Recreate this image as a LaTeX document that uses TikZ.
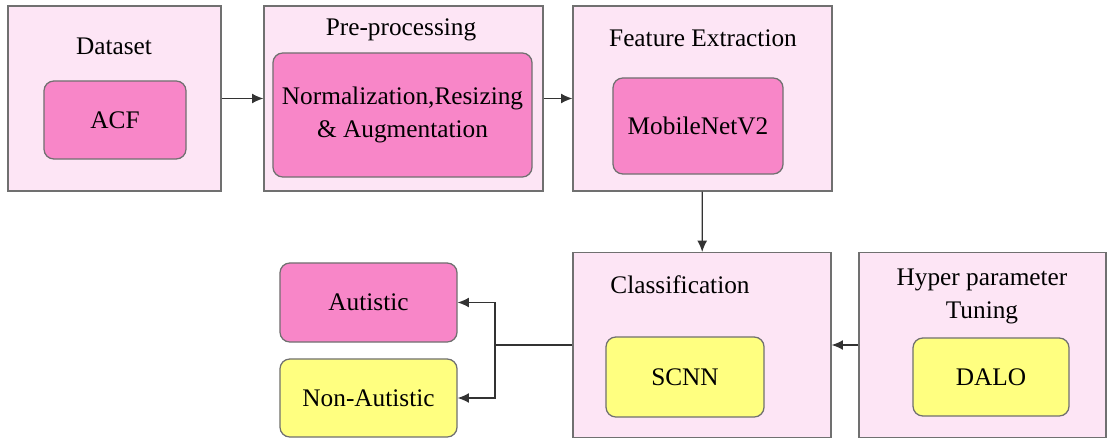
\documentclass[tikz,border=0pt]{standalone}
\usepackage{fontspec}
\setmainfont{Liberation Serif}
\usetikzlibrary{shapes,arrows,arrows.meta,positioning}
\definecolor{stagepink}{RGB}{253,229,245}
\definecolor{blockpink}{RGB}{248,134,200}
\definecolor{blockyellow}{RGB}{255,255,128}
\definecolor{edgegray}{RGB}{112,112,112}

\begin{document}
\begin{tikzpicture}[x=0.025cm, y=-0.025cm,
    every node/.style={font=\fontsize{18}{23.5}\selectfont},
    stage/.style={draw=edgegray, fill=stagepink, line width=0.9pt, minimum height=4.62cm},
    block/.style={draw=edgegray, line width=0.9pt, rounded corners=7pt, inner sep=1pt, align=center},
    flow/.style={-{Latex[length=8pt,width=7pt]}, draw=black!80, line width=0.9pt}]
    \useasboundingbox (0,0) rectangle (1109,439);

    % Stage boxes
    \foreach \name/\x/\y/\w in {dset/114.5/98.5/5.325, prep/403.5/98.5/6.975, feat/702.5/98.5/6.475,
                               clsf/702/345/6.45, hypr/982.5/345/6.175} {
        \node[stage, minimum width=\w cm] (\name) at (\x,\y) {};
    }

    % Stage titles
    \node (dsettitle) at (114,46) {Dataset};
    \node (preptitle) at (401,30) {Pre-processing};
    \node (feattitle) at (703,38) {Feature Extraction};
    \node (clsftitle) at (680,285) {Classification};
    \node[align=center] (hyprtitle) at (982,296) {Hyper parameter\\Tuning};

    % Inner blocks
    \node[block, fill=blockpink, minimum width=3.55cm, minimum height=1.95cm] (acf) at (115,120) {ACF};
    \node[block, fill=blockpink, minimum width=6.475cm, minimum height=3.1cm] (norm) at (402.5,115) {Normalization,Resizing\\\& Augmentation};
    \node[block, fill=blockpink, minimum width=4.25cm, minimum height=2.4cm] (mnet) at (698,126) {MobileNetV2};
    \node[block, fill=blockyellow, minimum width=3.95cm, minimum height=2cm] (scnn) at (685,377) {SCNN};
    \node[block, fill=blockyellow, minimum width=3.9cm, minimum height=1.95cm] (dalo) at (991,377) {DALO};

    % Outputs
    \node[block, fill=blockpink, minimum width=4.425cm, minimum height=1.975cm] (aut) at (368.5,302.5) {Autistic};
    \node[block, fill=blockyellow, minimum width=4.425cm, minimum height=1.95cm] (naut) at (368.5,398) {Non-Autistic};

    % Connectors
    \draw[flow] (dset) -- (prep);
    \draw[flow] (prep) -- (feat);
    \draw[flow] (feat) -- (clsf);
    \draw[flow] (hypr) -- (clsf);
    \coordinate (split) at (495,345);
    \draw[draw=black!80, line width=0.9pt] (clsf.west) -- (split);
    \draw[flow] (split) |- (aut.east);
    \draw[flow] (split) |- (naut.east);

\end{tikzpicture}
\end{document}
